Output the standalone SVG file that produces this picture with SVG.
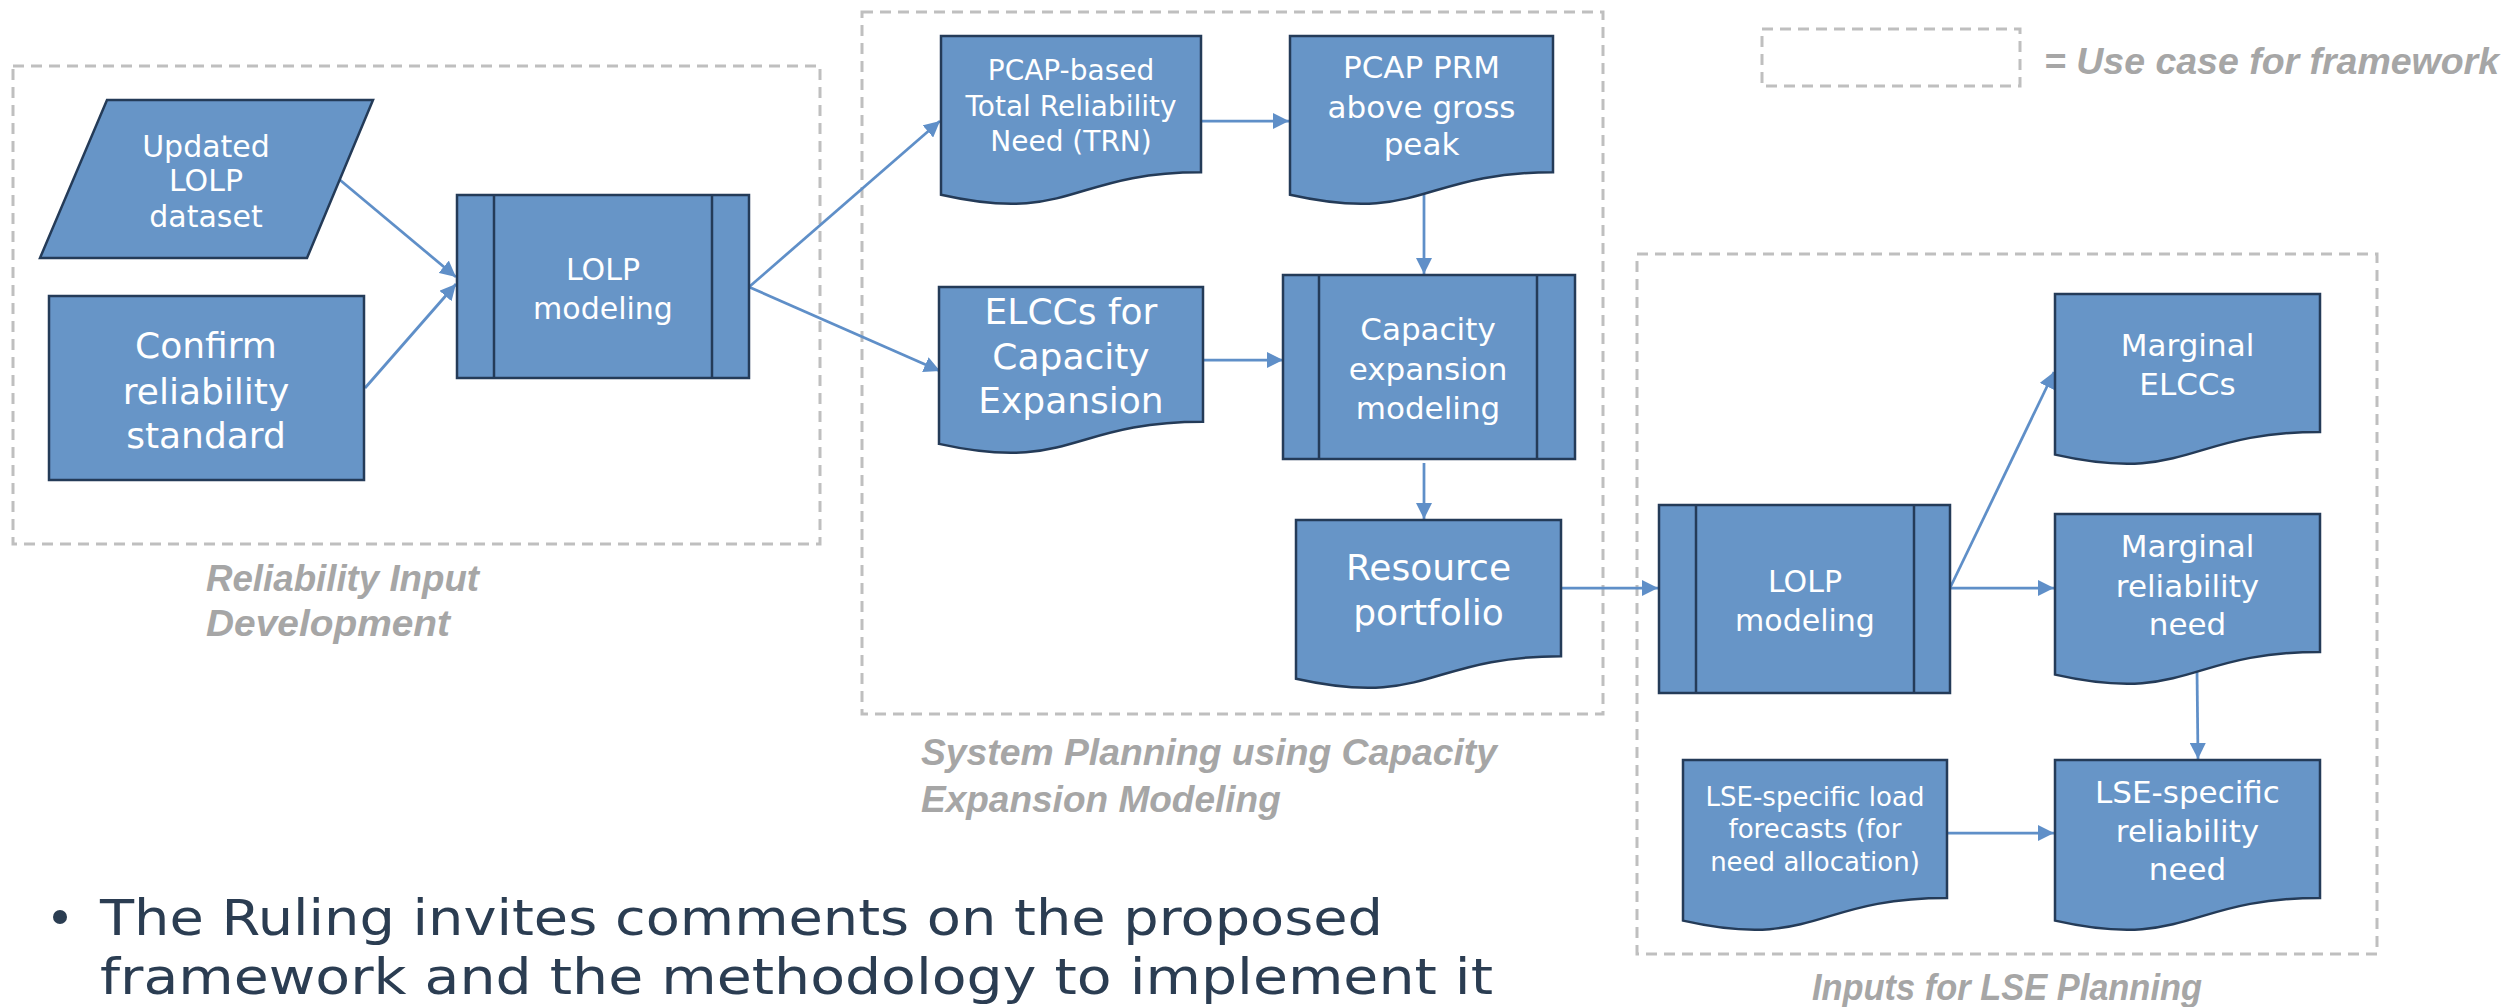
<svg xmlns="http://www.w3.org/2000/svg" width="2509" height="1007" viewBox="0 0 2509 1007">
<style>
.node{fill:#6795C7;stroke:#243B58;stroke-width:2.5}
.inner{fill:none;stroke:#243B58;stroke-width:2.5}
.nt{font-family:"DejaVu Sans",sans-serif;fill:#FFFFFF;text-anchor:middle}
.grp{fill:none;stroke:#BFBFBF;stroke-width:3;stroke-dasharray:11 7}
.lbl{font-family:"Liberation Sans",Arial,sans-serif;font-weight:bold;font-style:italic;fill:#A6A6A6;font-size:37px}
.conn{fill:none;stroke:#5F8FC8;stroke-width:2.75;marker-end:url(#ah)}
.body{font-family:"DejaVu Sans",sans-serif;fill:#2B3D52;font-size:50px}
</style>
<defs>
<marker id="ah" viewBox="0 0 16 16" refX="16" refY="8" markerWidth="16" markerHeight="16" markerUnits="userSpaceOnUse" orient="auto">
<path d="M0,0 L16,8 L0,16 Z" fill="#5F8FC8"/>
</marker>
</defs>
<rect width="2509" height="1007" fill="#FFFFFF"/>

<g id="groups">
<rect class="grp" x="13" y="66" width="807" height="478"/>
<rect class="grp" x="862" y="12" width="741" height="702"/>
<rect class="grp" x="1637" y="254" width="740" height="700"/>
<rect class="grp" x="1762" y="29" width="258" height="57"/>
</g>

<g id="labels">
<text class="lbl" x="206" y="591" textLength="273" lengthAdjust="spacingAndGlyphs">Reliability Input</text>
<text class="lbl" x="206" y="636" textLength="244" lengthAdjust="spacingAndGlyphs">Development</text>
<text class="lbl" x="921" y="765" textLength="576" lengthAdjust="spacingAndGlyphs">System Planning using Capacity</text>
<text class="lbl" x="921" y="812">Expansion Modeling</text>
<text class="lbl" x="1812" y="1000" textLength="390" lengthAdjust="spacingAndGlyphs">Inputs for LSE Planning</text>
<text class="lbl" x="2044" y="74" textLength="455" lengthAdjust="spacingAndGlyphs">= Use case for framework</text>
</g>

<g id="connectors">
<line class="conn" x1="340" y1="180" x2="456" y2="277"/>
<line class="conn" x1="365" y1="388" x2="456" y2="284"/>
<line class="conn" x1="749" y1="287" x2="940" y2="121"/>
<line class="conn" x1="749" y1="287" x2="940" y2="371"/>
<line class="conn" x1="1201" y1="121" x2="1289" y2="121"/>
<line class="conn" x1="1424" y1="193" x2="1424" y2="274"/>
<line class="conn" x1="1203" y1="360" x2="1283" y2="360"/>
<line class="conn" x1="1424" y1="463" x2="1424" y2="519"/>
<line class="conn" x1="1561" y1="588" x2="1658" y2="588"/>
<line class="conn" x1="1950" y1="588" x2="2054" y2="372"/>
<line class="conn" x1="1950" y1="588" x2="2054" y2="588"/>
<line class="conn" x1="2197" y1="671" x2="2198" y2="759"/>
<line class="conn" x1="1947" y1="833" x2="2054" y2="833"/>
</g>

<g id="updated-lolp-dataset">
<polygon class="node" points="107,100 373,100 307,258 40,258"/>
<text class="nt" font-size="30" x="206" y="157">Updated</text>
<text class="nt" font-size="30" x="206" y="191">LOLP</text>
<text class="nt" font-size="30" x="206" y="227">dataset</text>
</g>

<g id="confirm-reliability-standard">
<rect class="node" x="49" y="296" width="315" height="184"/>
<text class="nt" font-size="36" x="206" y="358">Confirm</text>
<text class="nt" font-size="36" x="206" y="404">reliability</text>
<text class="nt" font-size="36" x="206" y="448">standard</text>
</g>

<g id="lolp-modeling-1">
<rect class="node" x="457" y="195" width="292" height="183"/>
<line class="inner" x1="494" y1="195" x2="494" y2="378"/>
<line class="inner" x1="712" y1="195" x2="712" y2="378"/>
<text class="nt" font-size="30" x="603" y="280">LOLP</text>
<text class="nt" font-size="30" x="603" y="319">modeling</text>
</g>

<g id="pcap-trn">
<path class="node" d="M941,36 H1201 V172.3 C1071,172.3 1071,224.3 941,194.8 Z"/>
<text class="nt" font-size="28" x="1071" y="80">PCAP-based</text>
<text class="nt" font-size="28" x="1071" y="116">Total Reliability</text>
<text class="nt" font-size="28" x="1071" y="151">Need (TRN)</text>
</g>

<g id="pcap-prm">
<path class="node" d="M1290,36 H1553 V172.3 C1421.5,172.3 1421.5,224.3 1290,194.8 Z"/>
<text class="nt" font-size="31" x="1421.5" y="78">PCAP PRM</text>
<text class="nt" font-size="31" x="1421.5" y="118">above gross</text>
<text class="nt" font-size="31" x="1421.5" y="155">peak</text>
</g>

<g id="elccs-capacity-expansion">
<path class="node" d="M939,287 H1203 V421.7 C1071,421.7 1071,473.1 939,443.9 Z"/>
<text class="nt" font-size="36" x="1071" y="324">ELCCs for</text>
<text class="nt" font-size="36" x="1071" y="369">Capacity</text>
<text class="nt" font-size="36" x="1071" y="413">Expansion</text>
</g>

<g id="capacity-expansion-modeling">
<rect class="node" x="1283" y="275" width="292" height="184"/>
<line class="inner" x1="1319" y1="275" x2="1319" y2="459"/>
<line class="inner" x1="1537" y1="275" x2="1537" y2="459"/>
<text class="nt" font-size="31" x="1428" y="340">Capacity</text>
<text class="nt" font-size="31" x="1428" y="380">expansion</text>
<text class="nt" font-size="31" x="1428" y="419">modeling</text>
</g>

<g id="resource-portfolio">
<path class="node" d="M1296,520 H1561 V656.3 C1428.5,656.3 1428.5,708.3 1296,678.8 Z"/>
<text class="nt" font-size="36" x="1428.5" y="580">Resource</text>
<text class="nt" font-size="36" x="1428.5" y="625">portfolio</text>
</g>

<g id="lolp-modeling-2">
<rect class="node" x="1659" y="505" width="291" height="188"/>
<line class="inner" x1="1696" y1="505" x2="1696" y2="693"/>
<line class="inner" x1="1914" y1="505" x2="1914" y2="693"/>
<text class="nt" font-size="30" x="1805" y="592">LOLP</text>
<text class="nt" font-size="30" x="1805" y="631">modeling</text>
</g>

<g id="marginal-elccs">
<path class="node" d="M2055,294 H2320 V431.9 C2187.5,431.9 2187.5,484.5 2055,454.6 Z"/>
<text class="nt" font-size="31" x="2187.5" y="356">Marginal</text>
<text class="nt" font-size="31" x="2187.5" y="395">ELCCs</text>
</g>

<g id="marginal-reliability-need">
<path class="node" d="M2055,514 H2320 V651.9 C2187.5,651.9 2187.5,704.5 2055,674.6 Z"/>
<text class="nt" font-size="31" x="2187.5" y="557">Marginal</text>
<text class="nt" font-size="31" x="2187.5" y="597">reliability</text>
<text class="nt" font-size="31" x="2187.5" y="635">need</text>
</g>

<g id="lse-load-forecasts">
<path class="node" d="M1683,760 H1947 V897.9 C1815,897.9 1815,950.5 1683,920.6 Z"/>
<text class="nt" font-size="26" x="1815" y="806">LSE-specific load</text>
<text class="nt" font-size="26" x="1815" y="838">forecasts (for</text>
<text class="nt" font-size="26" x="1815" y="871">need allocation)</text>
</g>

<g id="lse-reliability-need">
<path class="node" d="M2055,760 H2320 V897.9 C2187.5,897.9 2187.5,950.5 2055,920.6 Z"/>
<text class="nt" font-size="31" x="2187.5" y="803">LSE-specific</text>
<text class="nt" font-size="31" x="2187.5" y="842">reliability</text>
<text class="nt" font-size="31" x="2187.5" y="880">need</text>
</g>

<g id="bullet">
<circle cx="60" cy="917" r="7" fill="#2B3D52"/>
<text class="body" x="100" y="935" textLength="1283" lengthAdjust="spacingAndGlyphs">The Ruling invites comments on the proposed</text>
<text class="body" x="100" y="994" textLength="1393" lengthAdjust="spacingAndGlyphs">framework and the methodology to implement it</text>
</g>
</svg>
